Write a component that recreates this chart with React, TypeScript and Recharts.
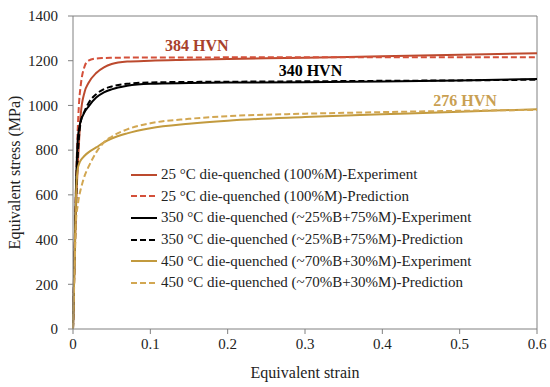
import { LineChart, Line, XAxis, YAxis, ReferenceLine, ReferenceDot } from 'recharts';

// strain points shared by all curves
const strain = [0, 0.002, 0.004, 0.006, 0.008, 0.01, 0.015, 0.02, 0.03, 0.04, 0.05, 0.07, 0.1, 0.15, 0.2, 0.3, 0.4, 0.5, 0.6];

const exp25 = [0, 300, 550, 720, 850, 960, 1060, 1100, 1145, 1170, 1185, 1196, 1200, 1204, 1208, 1213, 1220, 1227, 1233];
const pred25 = [0, 350, 650, 880, 1020, 1090, 1175, 1200, 1210, 1212, 1213, 1214, 1214, 1214, 1215, 1215, 1215, 1215, 1215];
const exp350 = [0, 350, 650, 840, 900, 930, 970, 995, 1035, 1058, 1072, 1088, 1097, 1100, 1102, 1104, 1107, 1112, 1118];
const pred350 = [0, 300, 560, 760, 870, 925, 975, 1010, 1050, 1073, 1085, 1097, 1103, 1105, 1106, 1108, 1110, 1112, 1115];
const exp450 = [0, 300, 600, 715, 740, 755, 775, 790, 812, 835, 852, 875, 898, 918, 932, 948, 960, 972, 983];
const pred450 = [0, 260, 490, 550, 595, 625, 685, 725, 790, 835, 860, 893, 920, 940, 952, 963, 970, 976, 980];

const xTicks = [0, 0.1, 0.2, 0.3, 0.4, 0.5, 0.6];
const yTicks = [0, 200, 400, 600, 800, 1000, 1200, 1400];

const series = [
  { key: 'exp25', name: '25 °C die-quenched (100%M)-Experiment', color: '#BC4A2E', dash: undefined },
  { key: 'pred25', name: '25 °C die-quenched (100%M)-Prediction', color: '#D4503A', dash: '6 3' },
  { key: 'exp350', name: '350 °C die-quenched (~25%B+75%M)-Experiment', color: '#000000', dash: undefined },
  { key: 'pred350', name: '350 °C die-quenched (~25%B+75%M)-Prediction', color: '#000000', dash: '6 3' },
  { key: 'exp450', name: '450 °C die-quenched (~70%B+30%M)-Experiment', color: '#C29A3E', dash: undefined },
  { key: 'pred450', name: '450 °C die-quenched (~70%B+30%M)-Prediction', color: '#D2A752', dash: '6 3' },
];

const chartData = strain.map((s, i) => ({
  strain: s,
  exp25: exp25[i],
  pred25: pred25[i],
  exp350: exp350[i],
  pred350: pred350[i],
  exp450: exp450[i],
  pred450: pred450[i],
}));

const serif = "'Liberation Serif', Tinos, 'Times New Roman', 'DejaVu Serif', serif";
const tickStyle = { fontSize: 15, fontFamily: serif, fill: '#222' };

const LegendBox = () => (
  <div style={{ position: 'absolute', left: 131, top: 164, fontFamily: serif, fontSize: 15, color: '#222' }}>
    {series.map((s) => (
      <div key={s.key} style={{ display: 'flex', alignItems: 'center', height: 21.6 }}>
        <svg width={28} height={10} style={{ marginRight: 2 }}>
          <line x1={0} y1={5} x2={26} y2={5} stroke={s.color} strokeWidth={2} strokeDasharray={s.dash ? '6 3' : undefined} />
        </svg>
        <span style={{ whiteSpace: 'nowrap' }}>{s.name}</span>
      </div>
    ))}
  </div>
);

const App = () => {
  return (
    <div style={{ position: 'absolute', left: 0, top: 0, width: 550, height: 387, background: '#fff', fontFamily: serif }}>
      <LineChart width={550} height={387} data={chartData} margin={{ top: 16, right: 13, left: 0, bottom: 0 }} style={{ fontFamily: serif }}>
        <XAxis
          dataKey="strain"
          type="number"
          domain={[0, 0.6]}
          ticks={xTicks}
          tick={tickStyle}
          tickSize={5}
          tickMargin={4}
          stroke="#808080"
          height={58}
          label={{ value: 'Equivalent strain', position: 'insideBottom', offset: 9, style: { fontSize: 16, fontFamily: serif, fill: '#222' } }}
        />
        <YAxis
          type="number"
          domain={[0, 1400]}
          ticks={yTicks}
          tick={tickStyle}
          tickSize={5}
          tickMargin={10}
          stroke="#808080"
          width={73}
          label={{ value: 'Equivalent stress (MPa)', angle: -90, position: 'insideLeft', offset: 14, style: { fontSize: 16, fontFamily: serif, fill: '#222', textAnchor: 'middle' } }}
        />
        <ReferenceLine y={1400} stroke="#808080" />
        <ReferenceLine x={0.6} stroke="#808080" />
        {series.map((s) => (
          <Line
            key={s.key}
            type="monotone"
            dataKey={s.key}
            name={s.name}
            stroke={s.color}
            strokeWidth={2}
            strokeDasharray={s.dash}
            dot={false}
            isAnimationActive={false}
          />
        ))}
        <ReferenceDot x={0.16} y={1270} r={0} label={{ value: '384 HVN', position: 'center', style: { fontSize: 16, fontWeight: 'bold', fontFamily: serif, fill: '#A8412B' } }} />
        <ReferenceDot x={0.307} y={1158} r={0} label={{ value: '340 HVN', position: 'center', style: { fontSize: 16, fontWeight: 'bold', fontFamily: serif, fill: '#000' } }} />
        <ReferenceDot x={0.507} y={1024} r={0} label={{ value: '276 HVN', position: 'center', style: { fontSize: 16, fontWeight: 'bold', fontFamily: serif, fill: '#C9A052' } }} />
      </LineChart>
      <LegendBox />
    </div>
  );
};

export default App;
